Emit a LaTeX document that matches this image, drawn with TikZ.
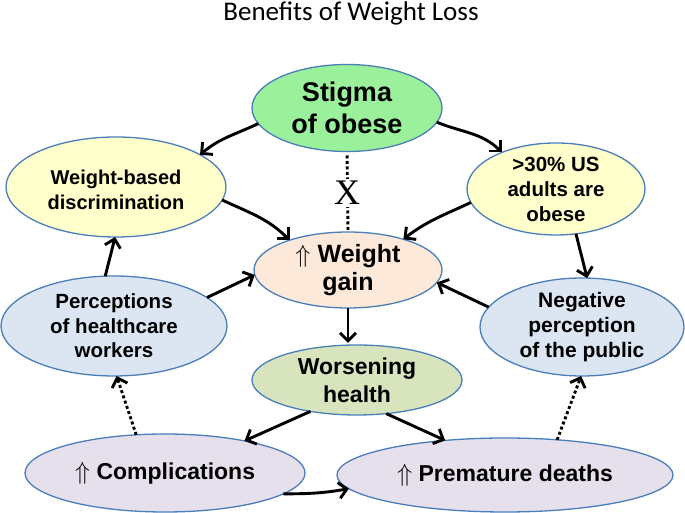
\documentclass[tikz,border=0pt]{standalone}
\usepackage{fontspec}
\setmainfont{Liberation Sans}
\newfontfamily\titlefont{Carlito}
\newfontfamily\xfont{Liberation Serif}
\usetikzlibrary{shapes.geometric,arrows.meta}
\definecolor{edgeblue}{RGB}{74,126,187}
\definecolor{fgreen}{RGB}{155,240,155}
\definecolor{fyellow}{RGB}{255,255,204}
\definecolor{fpeach}{RGB}{253,233,217}
\definecolor{fblue}{RGB}{220,230,242}
\definecolor{folive}{RGB}{215,228,189}
\definecolor{fviolet}{RGB}{229,224,236}
\newcommand{\fs}[2]{\fontsize{#1}{#2}\selectfont}
\begin{document}
\begin{tikzpicture}[x=1pt,y=1pt,
  ell/.style={ellipse, draw=edgeblue, line width=1.3pt, inner sep=0pt, outer sep=0pt},
  lbl/.style={align=center, inner sep=0pt},
  arr/.style={line width=2.9pt, -{Straight Barb[length=8pt,width=16pt]}},
  dotarr/.style={line width=2.9pt, dash pattern=on 3pt off 2.5pt, -{Straight Barb[length=8pt,width=16pt]}},
  dotline/.style={line width=2.9pt, dash pattern=on 3pt off 2.5pt}]
\useasboundingbox (0,0) rectangle (685,513);
\node[anchor=base, inner sep=0pt, font=\titlefont\fs{27}{30}] (title) at (351,492) {Benefits of Weight Loss};

\node[ell, fill=fgreen, minimum width=190pt, minimum height=87pt,
  label={[lbl, font=\bfseries\fs{27}{32}]center:{Stigma\\of obese}}] (S) at (347,405) {};
\node[ell, fill=fyellow, minimum width=220pt, minimum height=100pt,
  label={[lbl, font=\bfseries\fs{20}{25}, yshift=-3pt]center:{Weight-based\\discrimination}}] (W) at (116,326) {};
\node[ell, fill=fyellow, minimum width=178pt, minimum height=92pt,
  label={[lbl, font=\bfseries\fs{20.5}{25}]center:{>30\% US\\adults are\\obese}}] (O) at (556,324) {};
\node[ell, fill=fpeach, minimum width=188pt, minimum height=76pt,
  label={[lbl, font=\bfseries\fs{25}{28}]center:{$\Uparrow$ Weight\\gain}}] (G) at (348,243) {};
\node[ell, fill=fblue, minimum width=226pt, minimum height=100pt,
  label={[lbl, font=\bfseries\fs{20.5}{24.5}]center:{Perceptions\\of healthcare\\workers}}] (P) at (114,187) {};
\node[ell, fill=fblue, minimum width=204pt, minimum height=98pt,
  label={[lbl, font=\bfseries\fs{21}{25}]center:{Negative\\perception\\of the public}}] (N) at (582,186) {};
\node[ell, fill=folive, minimum width=210pt, minimum height=70pt,
  label={[lbl, font=\bfseries\fs{23}{28}]center:{Worsening\\health}}] (H) at (357,133) {};
\node[ell, fill=fviolet, minimum width=280pt, minimum height=78pt,
  label={[lbl, font=\bfseries\fs{23}{28}]center:{$\Uparrow$ Complications}}] (C) at (165,40) {};
\node[ell, fill=fviolet, minimum width=336pt, minimum height=74pt,
  label={[lbl, font=\bfseries\fs{23}{28}]center:{$\Uparrow$ Premature deaths}}] (D) at (505,38) {};

% dotted blocked link
\draw[dotline, shorten <=4pt, shorten >=2pt] (S.south) -- (G.north);
\node[fill=white, inner sep=2pt, font=\xfont\fs{36}{38}] (X) at (347,320) {X};

% arrows
\draw[arr] (S.190) to[out=205,in=40] (W.21);
\draw[arr] (S.-9) to[out=-22,in=135] (O.146);
\draw[arr] (W.-7) to[out=-25,in=135] (G.153);
\draw[arr] (O.189) to[out=205,in=38] (G.29);
\draw[arr] (O.-66) -- (N.84);
\draw[arr] (P.100) -- (W.-91);
\draw[arr] (P.17) -- (G.183);
\draw[arr] (N.168) -- (G.-8);
\draw[arr, shorten >=2pt] (G.south) -- (G.south |- H.north);
\draw[arr] (H.214) -- (C.22);
\draw[arr] (H.-49) -- (D.150);
\draw[arr] (C.-10) to[out=0,in=190] (D.185);
\draw[dotarr] (C.127) -- (P.-87);
\draw[dotarr] (D.34) -- (N.-91);
\end{tikzpicture}
\end{document}
